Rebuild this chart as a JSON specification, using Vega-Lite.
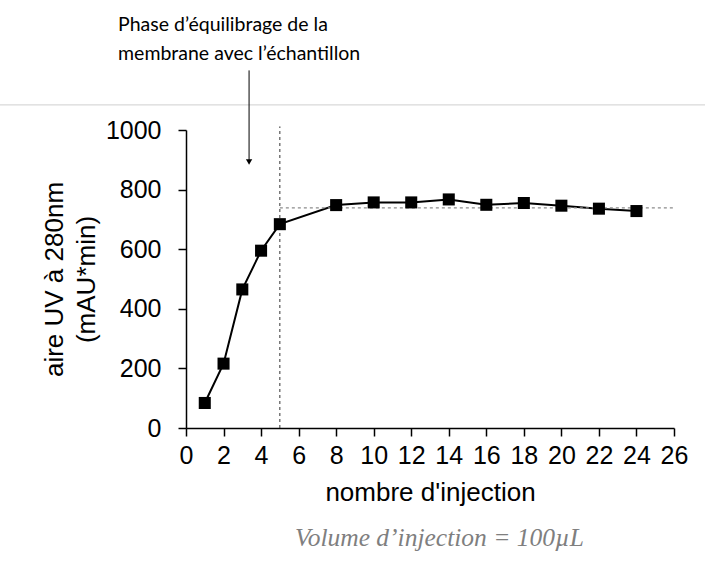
{
  "$schema": "https://vega.github.io/schema/vega-lite/v6.json",
  "width": 488,
  "height": 298,
  "autosize": {"type": "none"},
  "padding": {"left": 186, "top": 130, "right": 31, "bottom": 133},
  "background": "white",
  "config": {
    "view": {"stroke": null},
    "axis": {
      "grid": false,
      "domainColor": "black",
      "tickColor": "black",
      "domainWidth": 1.5,
      "tickWidth": 1.5,
      "tickSize": 8,
      "labelFont": "Liberation Sans",
      "labelFontSize": 25,
      "labelColor": "black",
      "labelOverlap": false,
      "titleFont": "Liberation Sans",
      "titleFontSize": 26,
      "titleFontWeight": "normal",
      "titleColor": "black"
    }
  },
  "datasets": {
    "series": [
      {"injection": 1, "aire": 84},
      {"injection": 2, "aire": 216},
      {"injection": 3, "aire": 465},
      {"injection": 4, "aire": 595},
      {"injection": 5, "aire": 684},
      {"injection": 8, "aire": 748},
      {"injection": 10, "aire": 757},
      {"injection": 12, "aire": 757},
      {"injection": 14, "aire": 767},
      {"injection": 16, "aire": 749},
      {"injection": 18, "aire": 755},
      {"injection": 20, "aire": 746},
      {"injection": 22, "aire": 736},
      {"injection": 24, "aire": 728}
    ]
  },
  "layer": [
    {
      "data": {"name": "series"},
      "mark": {"type": "line", "color": "black", "strokeWidth": 2},
      "encoding": {
        "x": {
          "field": "injection",
          "type": "quantitative",
          "scale": {"domain": [0, 26], "nice": false},
          "axis": {"values": [0, 2, 4, 6, 8, 10, 12, 14, 16, 18, 20, 22, 24, 26], "tickCount": 14, "labelOverlap": false, "labelFlush": false, "title": "nombre d'injection", "labelPadding": 7, "titlePadding": 11}
        },
        "y": {
          "field": "aire",
          "type": "quantitative",
          "scale": {"domain": [0, 1000], "nice": false},
          "axis": {"values": [0, 200, 400, 600, 800, 1000], "labelOverlap": false, "labelFlush": false, "format": "d", "title": ["aire UV à 280nm", "(mAU*min)"], "labelPadding": 17, "titlePadding": 6, "titleLineHeight": 32}
        }
      }
    },
    {
      "data": {"values": [{"x1": -9.95, "x2": 27.7, "y": 1084}]},
      "mark": {"type": "rule", "color": "#d9d9d9", "strokeWidth": 1.2},
      "encoding": {
        "x": {"field": "x1", "type": "quantitative"},
        "x2": {"field": "x2"},
        "y": {"field": "y", "type": "quantitative"}
      }
    },
    {
      "data": {"values": [{"x": 5, "y1": 0, "y2": 1012}]},
      "mark": {"type": "rule", "color": "#333333", "strokeWidth": 1, "strokeDash": [3, 3]},
      "encoding": {
        "x": {"field": "x", "type": "quantitative"},
        "y": {"field": "y1", "type": "quantitative"},
        "y2": {"field": "y2"}
      }
    },
    {
      "data": {"values": [{"x1": 5, "x2": 26, "y": 739}]},
      "mark": {"type": "rule", "color": "#8c8c8c", "strokeWidth": 1.2, "strokeDash": [3, 3]},
      "encoding": {
        "x": {"field": "x1", "type": "quantitative"},
        "x2": {"field": "x2"},
        "y": {"field": "y", "type": "quantitative"}
      }
    },
    {
      "data": {"name": "series"},
      "mark": {"type": "point", "shape": "square", "filled": true, "color": "black", "opacity": 1, "size": 145},
      "encoding": {
        "x": {"field": "injection", "type": "quantitative"},
        "y": {"field": "aire", "type": "quantitative"}
      }
    },
    {
      "data": {"values": [{"x": 3.36, "y1": 1200, "y2": 895}]},
      "mark": {"type": "rule", "color": "black", "strokeWidth": 1},
      "encoding": {
        "x": {"field": "x", "type": "quantitative"},
        "y": {"field": "y1", "type": "quantitative"},
        "y2": {"field": "y2"}
      }
    },
    {
      "data": {"values": [{"x": 3.36, "y": 893}]},
      "mark": {"type": "point", "shape": "triangle-down", "filled": true, "color": "black", "opacity": 1, "size": 40},
      "encoding": {
        "x": {"field": "x", "type": "quantitative"},
        "y": {"field": "y", "type": "quantitative"}
      }
    },
    {
      "data": {"values": [
        {"x": -3.62, "y": 1352, "label": "Phase d’équilibrage de la"},
        {"x": -3.62, "y": 1255, "label": "membrane avec l’échantillon"}
      ]},
      "mark": {"type": "text", "align": "left", "baseline": "middle", "font": "Lato", "fontSize": 19.5, "color": "black"},
      "encoding": {
        "x": {"field": "x", "type": "quantitative"},
        "y": {"field": "y", "type": "quantitative"},
        "text": {"field": "label"}
      }
    },
    {
      "data": {"values": [{"x": 13.5, "y": -368, "label": "Volume d’injection = 100µL"}]},
      "mark": {"type": "text", "align": "center", "baseline": "middle", "font": "Liberation Serif", "fontStyle": "italic", "fontSize": 25.5, "color": "#7f7f7f"},
      "encoding": {
        "x": {"field": "x", "type": "quantitative"},
        "y": {"field": "y", "type": "quantitative"},
        "text": {"field": "label"}
      }
    }
  ]
}
